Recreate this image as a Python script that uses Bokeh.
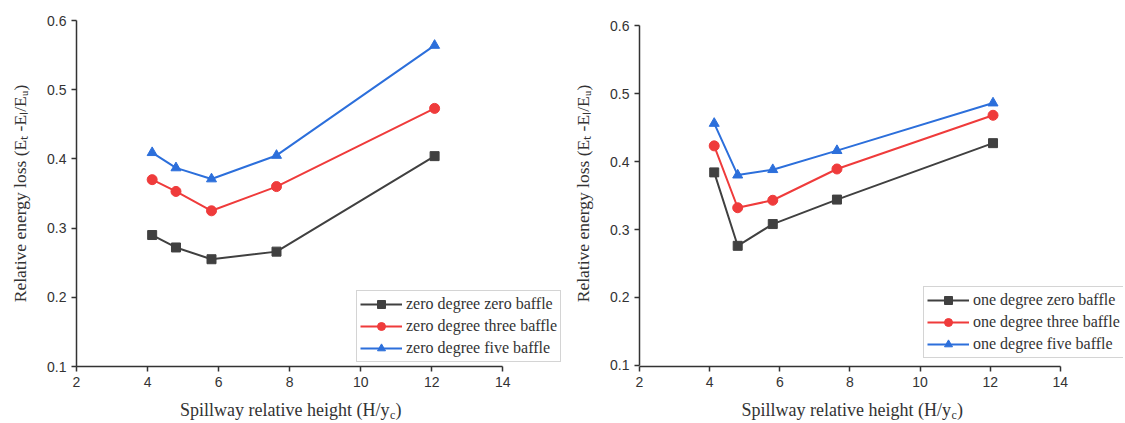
from bokeh.plotting import figure
from bokeh.models import Legend, LegendItem, FixedTicker, Range1d
from bokeh.layouts import row, column
from bokeh.core.properties import value
from bokeh.embed import file_html
from bokeh.resources import INLINE

# ---- data ----
x_height = [4.13, 4.8, 5.8, 7.63, 12.08]

zero_zero = [0.290, 0.272, 0.255, 0.266, 0.404]
zero_three = [0.370, 0.353, 0.325, 0.360, 0.473]
zero_five = [0.409, 0.387, 0.371, 0.405, 0.564]

one_zero = [0.384, 0.276, 0.308, 0.344, 0.427]
one_three = [0.423, 0.332, 0.343, 0.389, 0.468]
one_five = [0.456, 0.380, 0.388, 0.416, 0.486]

left_names = ["zero degree zero baffle", "zero degree three baffle", "zero degree five baffle"]
right_names = ["one degree zero baffle", "one degree three baffle", "one degree five baffle"]

x_ticks = [2, 4, 6, 8, 10, 12, 14]
y_ticks = [0.1, 0.2, 0.3, 0.4, 0.5, 0.6]

y_title = "Relative energy loss (E\u209c -E\u2097/E\u1d64)"
x_title_main = "Spillway relative height (H/y"
x_title_sub = "c"
x_title_end = ")"

COLORS = ["#404040", "#EF3B3B", "#2C6FDB"]
MARKERS = ["square", "circle", "triangle"]
SIZES = [9, 10, 10]

SERIF = "Liberation Serif"
SANS = "Liberation Sans"
TXT = "#333333"

MAIN_H = 396
LABEL_H = 26


def make_panel(width, bl, br, x_end, y_start, y_end, series, names, legend_loc, title_x):
    p = figure(width=width, height=MAIN_H, output_backend="svg", toolbar_location=None,
               x_range=Range1d(2, x_end), y_range=Range1d(y_start, y_end),
               min_border_left=bl, min_border_right=br, min_border_top=20, min_border_bottom=30)
    p.outline_line_color = None
    p.grid.visible = False

    items = []
    for ys, c, m, s, n in zip(series, COLORS, MARKERS, SIZES, names):
        ln = p.line(x_height, ys, line_color=c, line_width=2)
        sc = p.scatter(x_height, ys, marker=m, size=s, fill_color=c, line_color=c)
        items.append(LegendItem(label=n, renderers=[ln, sc]))

    for ax in (p.xaxis[0], p.yaxis[0]):
        ax.axis_line_color = "#333333"
        ax.axis_line_width = 1.5
        ax.major_tick_line_color = "#333333"
        ax.major_tick_line_width = 1.5
        ax.major_tick_out = 5
        ax.major_tick_in = 0
        ax.minor_tick_line_color = None
        ax.major_label_text_font = SANS
        ax.major_label_text_font_size = "14px"
        ax.major_label_text_color = TXT
        ax.major_label_standoff = 5

    p.xaxis[0].ticker = FixedTicker(ticks=x_ticks)
    p.xaxis[0].bounds = (2, 14)
    p.yaxis[0].ticker = FixedTicker(ticks=y_ticks)
    p.yaxis[0].bounds = (0.1, 0.6)

    p.yaxis[0].axis_label = y_title
    p.yaxis[0].axis_label_text_font = SERIF
    p.yaxis[0].axis_label_text_font_size = "17.5px"
    p.yaxis[0].axis_label_text_font_style = "normal"
    p.yaxis[0].axis_label_text_color = TXT
    p.yaxis[0].axis_label_standoff = 14

    leg = Legend(items=items, location=legend_loc)
    leg.label_text_font = SERIF
    leg.label_text_font_size = "16px"
    leg.label_text_color = TXT
    leg.glyph_width = 42
    leg.glyph_height = 20
    leg.label_height = 20
    leg.label_standoff = 4
    leg.padding = 3
    leg.spacing = 2
    leg.margin = 0
    leg.border_line_color = "#aaaaaa"
    leg.border_line_width = 1
    leg.background_fill_color = "white"
    leg.background_fill_alpha = 1
    p.add_layout(leg, "center")

    # x axis title (with subscript c) in a strip below the plot, sharing the x scale
    t = figure(width=width, height=LABEL_H, output_backend="svg", toolbar_location=None,
               x_range=p.x_range, y_range=Range1d(0, LABEL_H),
               x_axis_type=None, y_axis_type=None,
               min_border_left=bl, min_border_right=br, min_border_top=0, min_border_bottom=0)
    t.outline_line_color = None
    t.grid.visible = False
    t.text(x=[title_x], y=[13], text=[x_title_main], text_font=value(SERIF),
           text_font_size="18px", text_color=TXT, text_align="right", text_baseline="middle")
    t.text(x=[title_x], y=[13], text=[x_title_sub], text_font=value(SERIF), x_offset=0.5, y_offset=5,
           text_font_size="12px", text_color=TXT, text_align="left", text_baseline="middle")
    t.text(x=[title_x], y=[13], text=[x_title_end], text_font=value(SERIF), x_offset=6,
           text_font_size="18px", text_color=TXT, text_align="left", text_baseline="middle")
    return column(p, t)


left = make_panel(570, 76, 8, 15.68, 0.1, 0.6,
                  [zero_zero, zero_three, zero_five], left_names, (280, 4), 10.81)
right = make_panel(553, 67, 0, 15.8, 0.0985, 0.6074,
                   [one_zero, one_three, one_five], right_names, (284, 8), 10.88)

layout = row(left, right)
open("out.html", "w").write(file_html(layout, INLINE))
